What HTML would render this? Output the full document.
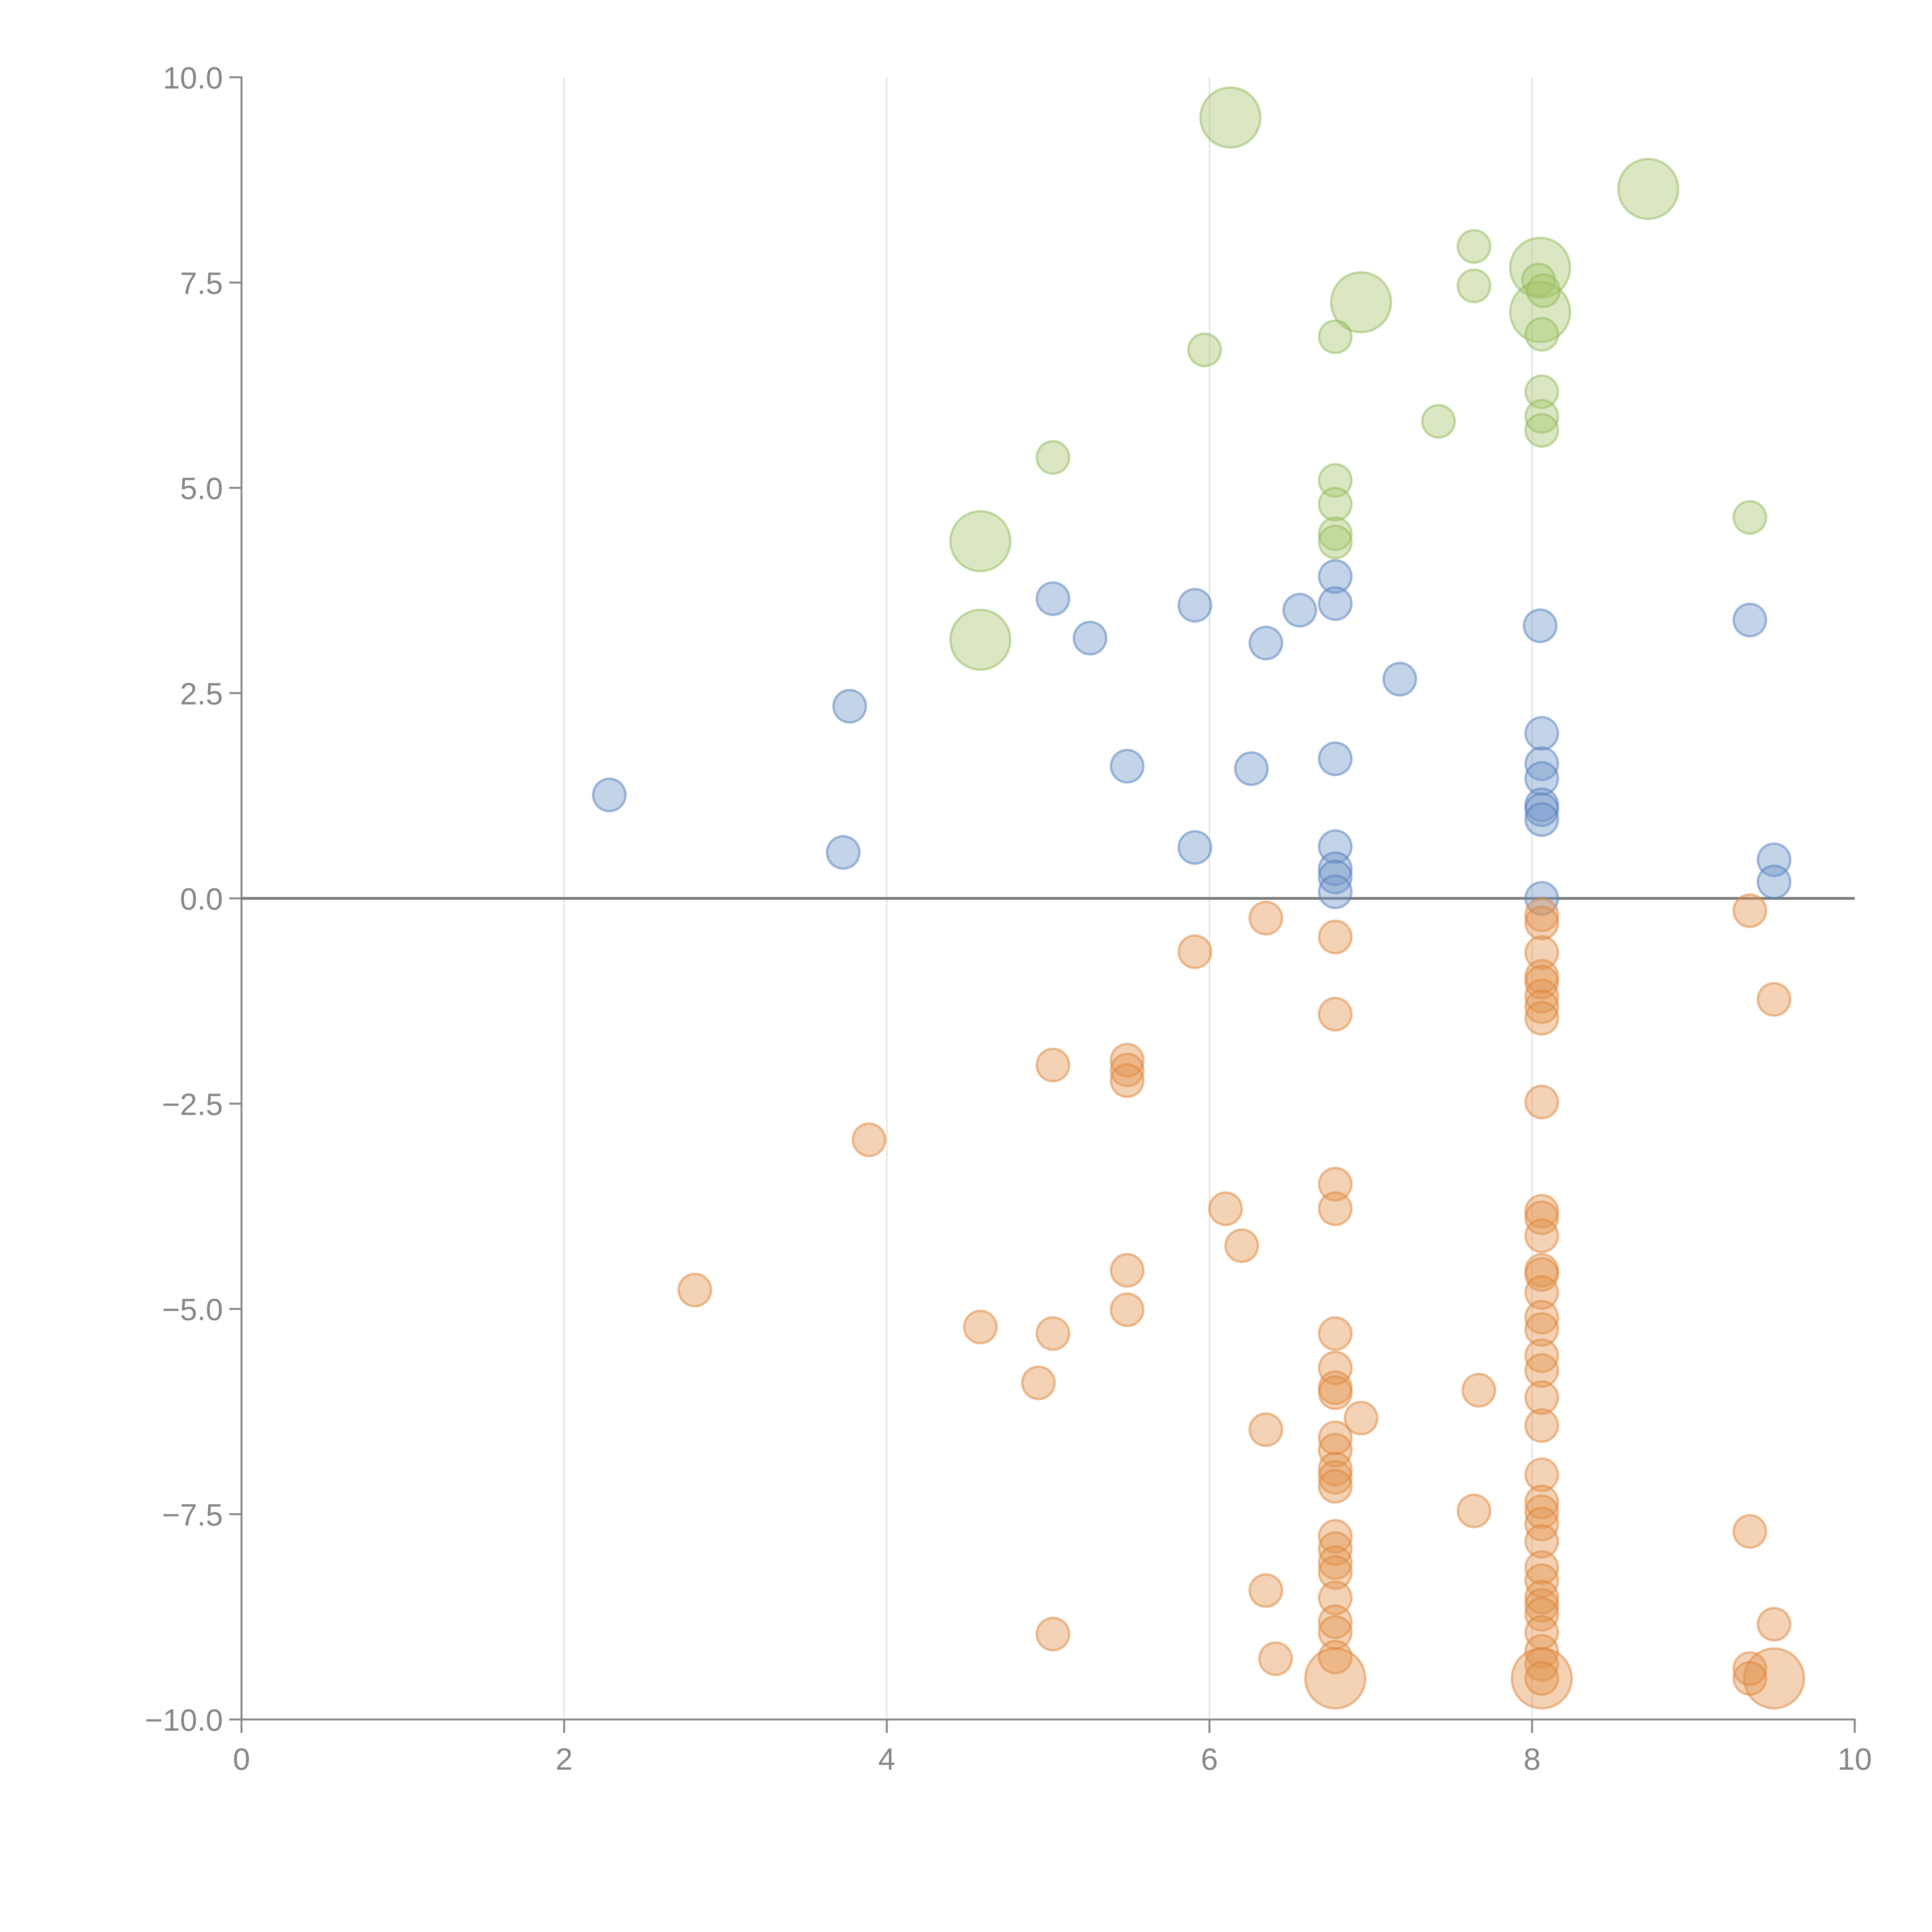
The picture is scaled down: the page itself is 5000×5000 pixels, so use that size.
<!DOCTYPE html>
<html><head><meta charset="utf-8"><style>
html,body{margin:0;padding:0;background:#fff;width:5000px;height:5000px;overflow:hidden}
svg{display:block}
text{font-family:"Liberation Sans",Arial,sans-serif;fill:#868686;font-size:80px}
</style></head><body>
<svg id="chart" width="5000" height="5000" viewBox="0 0 5000 5000"></svg>
<script>
const xTicks=[0,2,4,6,8,10];
const yTicks=[-10,-7.5,-5,-2.5,0,2.5,5,7.5,10];
const yTickLabels=["\u221210.0","\u22127.5","\u22125.0","\u22122.5","0.0","2.5","5.0","7.5","10.0"];
// green series
const greenX=[6.13,8.72,7.64,8.05,8.04,6.94,7.64,8.05,8.07,8.06,6.78,5.97,8.06,8.06,8.06,7.42,5.03,6.78,6.78,6.78,6.78,4.58,9.35,4.58];
const greenY=[9.51,8.64,7.94,7.68,7.53,7.26,7.46,7.14,7.4,6.87,6.84,6.68,6.17,5.87,5.70,5.81,5.37,5.09,4.80,4.44,4.34,4.35,4.64,3.15];
const greenS=[2,2,1,2,1,2,1,2,1,1,1,1,1,1,1,1,1,1,1,1,1,2,1,2];
// blue series
const blueX=[6.78,6.78,5.03,5.91,6.56,5.26,6.35,8.05,9.35,7.18,3.77,8.06,8.06,8.06,8.06,8.06,8.06,6.78,5.49,6.26,2.28,3.73,5.91,6.78,6.78,6.78,6.78,8.06,9.50,9.50];
const blueY=[3.92,3.59,3.65,3.57,3.51,3.17,3.11,3.32,3.39,2.67,2.34,2.01,1.64,1.46,1.14,1.08,0.96,1.70,1.61,1.58,1.26,0.56,0.62,0.63,0.36,0.26,0.08,0.0,0.47,0.2];
const blueS=blueX.map(()=>1);
// orange series
const orangeX=[9.35,9.5,6.35,5.91,6.78,6.78,8.06,8.06,8.06,8.06,8.06,8.06,8.06,8.06,8.06,5.03,5.49,5.49,5.49,3.89,6.78,6.78,6.1,6.2,
8.06,8.06,8.06,8.06,8.06,8.06,8.06,8.06,8.06,8.06,8.06,8.06,8.06,8.06,8.06,8.06,8.06,8.06,8.06,8.06,8.06,8.06,8.06,8.06,8.06,8.06,8.06,
5.49,5.49,2.81,4.58,5.03,4.94,6.78,6.78,6.78,6.78,6.94,7.67,6.35,6.78,6.78,6.78,6.78,6.78,7.64,9.35,6.78,6.78,6.78,6.78,6.78,6.78,6.78,6.78,6.78,
6.35,6.41,5.03,9.5,9.5,9.35,9.35];
const orangeY=[-0.15,-1.23,-0.24,-0.65,-0.47,-1.41,-0.2,-0.3,-0.66,-0.95,-1.02,-1.19,-1.32,-1.46,-2.48,-2.03,-1.97,-2.09,-2.22,-2.94,-3.48,-3.78,-3.78,-4.23,
-3.81,-3.89,-4.11,-4.53,-4.58,-4.80,-5.10,-5.25,-5.57,-5.75,-6.08,-6.42,-7.02,-7.35,-7.47,-7.62,-7.83,-8.15,-8.31,-8.51,-8.61,-8.72,-8.94,-9.17,-9.33,-9.50,-9.50,
-4.53,-5.01,-4.77,-5.22,-5.30,-5.90,-5.30,-5.72,-5.96,-6.02,-6.33,-5.99,-6.47,-6.57,-6.72,-6.95,-7.05,-7.16,-7.46,-7.71,-7.77,-7.92,-8.09,-8.21,-8.52,-8.81,-8.94,-9.24,-9.50,
-8.43,-9.26,-8.96,-8.84,-9.5,-9.38,-9.5];
const orangeS=[1,1,1,1,1,1,1,1,1,1,1,1,1,1,1,1,1,1,1,1,1,1,1,1,
1,1,1,1,1,1,1,1,1,1,1,1,1,1,1,1,1,1,1,1,1,1,1,1,1,2,1,
1,1,1,1,1,1,1,1,1,1,1,1,1,1,1,1,1,1,1,1,1,1,1,1,1,1,1,1,2,
1,1,1,1,2,1,1];

const NS="http://www.w3.org/2000/svg";
const svg=document.getElementById('chart');
const X0=625,X1=4800,Y0=4450,Y1=200;
function sx(v){return X0+(v-0)/(10-0)*(X1-X0);}
function sy(v){return Y0-(v+10)/20*(Y0-Y1);}
function sr(s){return 42*Math.sqrt(s*2.4-1.4);}
function mk(tag,attrs){const e=document.createElementNS(NS,tag);for(const k in attrs)e.setAttribute(k,attrs[k]);svg.appendChild(e);return e;}

// vertical gridlines
xTicks.forEach(t=>{if(t===0||t===10)return;
 const g=mk('line',{x1:sx(t),x2:sx(t),y1:Y1,y2:Y0,stroke:'#dddddd','stroke-width':3});
 
 
});
// axes
const ya=mk('line',{x1:X0,x2:X0,y1:Y1-2,y2:Y0,stroke:'#888','stroke-width':5});


const xa=mk('line',{x1:X0-2,x2:X1+2,y1:Y0,y2:Y0,stroke:'#888','stroke-width':5});


yTicks.forEach((t,i)=>{
 const l=mk('line',{x1:X0-32,x2:X0,y1:sy(t),y2:sy(t),stroke:'#888','stroke-width':5});
 
 
 const tx=mk('text',{x:X0-48,y:sy(t)+29,'text-anchor':'end'});
 tx.textContent=yTickLabels[i];
 
 
});
xTicks.forEach(t=>{
 const l=mk('line',{x1:sx(t),x2:sx(t),y1:Y0,y2:Y0+35,stroke:'#888','stroke-width':5});
 
 
 const tx=mk('text',{x:sx(t),y:Y0+130,'text-anchor':'middle'});
 tx.textContent=String(t);
 
 
});
// zero line
const z=mk('line',{x1:X0,x2:X1,y1:sy(0),y2:sy(0),stroke:'#7a7a7a','stroke-width':7});



function series(xs,ys,ss,fill,stroke,name){
 xs.forEach((x,i)=>{
  const c=mk('circle',{cx:sx(x),cy:sy(ys[i]),r:sr(ss[i]),fill:fill,'fill-opacity':0.42,stroke:stroke,'stroke-opacity':0.5,'stroke-width':6});
  
  
 });
}
series(greenX,greenY,greenS,'#a6c66e','#8fb856','green-bubble');
series(blueX,blueY,blueS,'#6f95c8','#4f7cbc','blue-bubble');
series(orangeX,orangeY,orangeS,'#e3944f','#de8438','orange-bubble');
</script>
</body></html>
